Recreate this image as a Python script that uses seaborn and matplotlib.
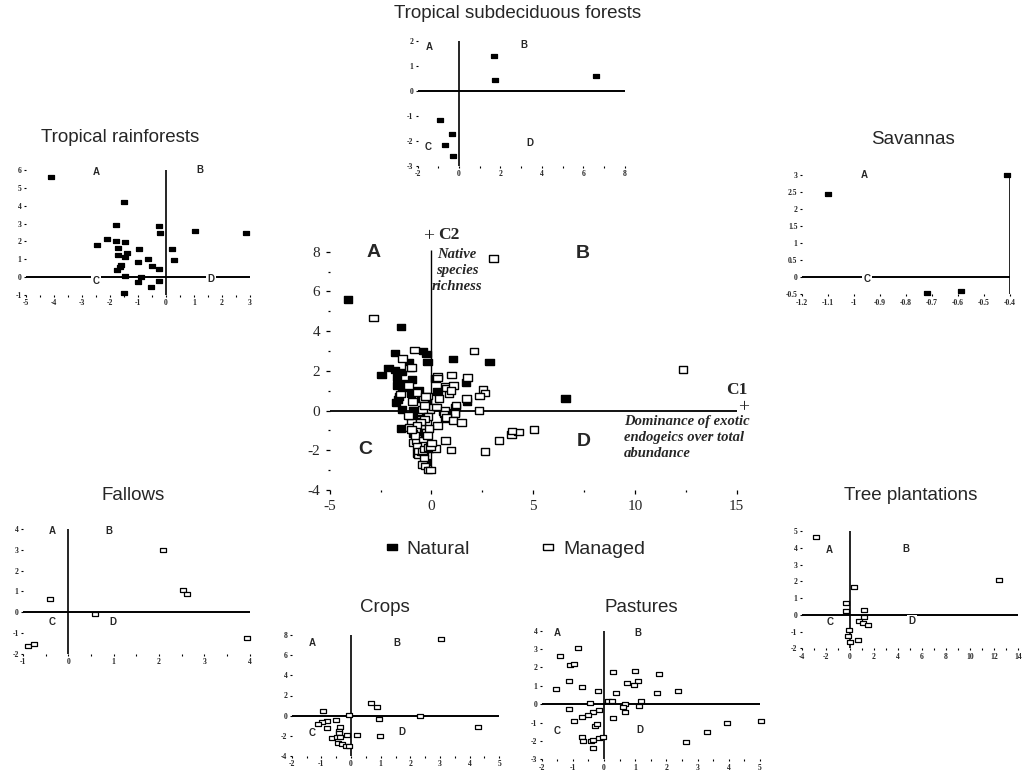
import numpy as np
import pandas as pd
import matplotlib
matplotlib.use("Agg")
import matplotlib.pyplot as plt
import seaborn as sns
from matplotlib.lines import Line2D

# ---------------- data ----------------
rain_x = [-4.1, -1.5, -1.8, -0.25, -0.2, 1.05, 2.85, -2.1, -1.8, -1.45, -2.45, -1.7, -0.95, 0.2,
          -1.4, -1.7, -1.45, -0.65, 0.3, -1.0, -1.6, -0.5, -1.65, -0.25, -1.75, -1.45, -0.9, -1.0,
          -0.25, -0.55, -1.5]
rain_y = [5.6, 4.2, 2.9, 2.85, 2.45, 2.6, 2.45, 2.15, 2.05, 1.95, 1.8, 1.65, 1.55, 1.6,
          1.35, 1.25, 1.15, 1.0, 0.95, 0.85, 0.7, 0.6, 0.55, 0.45, 0.4, 0.05, 0.0, -0.3,
          -0.2, -0.55, -0.9]

subd_x = [1.7, 1.75, 6.6, -0.9, -0.35, -0.7, -0.3]
subd_y = [1.4, 0.45, 0.6, -1.15, -1.7, -2.15, -2.6]

sav_x = [-1.1, -0.41, -0.72, -0.59]
sav_y = [2.45, 3.0, -0.46, -0.41]

fal_x = [-0.4, 2.08, 2.53, 2.63, 0.6, 3.94, -0.88, -0.76]
fal_y = [0.62, 3.0, 1.07, 0.88, -0.08, -1.22, -1.6, -1.5]

crop_x = [3.05, 0.69, 0.86, -0.93, -0.07, 2.34, 0.95, -0.51, -0.8, -0.98, -1.1, 4.27, -0.8,
          -0.37, -0.39, -0.4, -0.12, 0.21, 0.97, -0.65, -0.48, -0.37, -0.43, -0.31, -0.17, -0.06]
crop_y = [7.65, 1.23, 0.83, 0.47, 0.05, 0.0, -0.36, -0.43, -0.52, -0.59, -0.85, -1.09, -1.25,
          -1.09, -1.48, -1.75, -1.91, -1.91, -1.98, -2.24, -2.08, -2.14, -2.73, -2.8, -3.0, -3.0]

past_x = [-1.41, -0.83, -1.09, -0.98, -1.13, -1.53, -0.72, -0.19, 0.3, 0.98, 1.76, 0.73, 1.09,
          0.96, 0.38, 1.71, 2.37, -0.45, 0.11, 0.25, 0.67, 1.18, 1.13, 0.62, 0.67, -1.14, -0.16,
          -0.34, -0.53, -0.72, -0.98, 0.3, -0.29, -0.23, -0.72, -0.66, -0.43, -0.34, -0.16, -0.05,
          -0.37, 2.64, 3.31, 3.95, 5.04]
past_y = [2.63, 3.04, 2.14, 2.17, 1.27, 0.84, 0.91, 0.73, 1.74, 1.78, 1.65, 1.14, 1.27,
          1.02, 0.6, 0.6, 0.74, 0.05, 0.18, 0.18, 0.02, 0.18, -0.09, -0.18, -0.43, -0.25, -0.31,
          -0.43, -0.58, -0.72, -0.94, -0.76, -1.17, -1.1, -1.81, -2.03, -2.03, -1.94, -1.85, -1.81,
          -2.39, -2.06, -1.52, -1.03, -0.94]

tree_x = [-2.85, 12.36, 0.31, -0.28, -0.33, 1.2, 1.15, 0.73, 1.06, 1.48, -0.11, -0.19, 0.7, 0.0]
tree_y = [4.67, 2.07, 1.63, 0.7, 0.24, 0.28, -0.16, -0.36, -0.51, -0.61, -0.89, -1.25, -1.51, -1.64]

panel_titles = ["Tropical rainforests", "Tropical subdeciduous forests", "Savannas",
                "Fallows", "Crops", "Pastures", "Tree plantations"]
quadrants = ["A", "B", "C", "D"]
legend_labels = ["Natural", "Managed"]
axis_names = ["C1", "C2"]
c1_desc = "Dominance of exotic\nendogeics over total\nabundance"
c2_desc = "Native\nspecies\nrichness"

# ---------------- style ----------------
sns.set_theme(style="white")
plt.rcParams["font.family"] = ["Liberation Sans", "DejaVu Sans"]
plt.rcParams["axes.unicode_minus"] = False

W, H = 1025, 774
fig = plt.figure(figsize=(W / 100, H / 100), dpi=100)
fig.patch.set_facecolor("white")

RECT = [(-1.3, -1), (1.3, -1), (1.3, 1), (-1.3, 1), (-1.3, -1)]


def fx(px):
    return px / W


def fy(py):
    return 1 - py / H


def fmt(v):
    return ("%g" % v)


def small_panel(box, xs, ys, natural, xlim, ylim, xmaj, xmin, ymaj, title, tpos,
                qpos, vline_x=0.0):
    x0, x1, y0, y1 = box  # pixel box: left, right, top, bottom
    ax = fig.add_axes([fx(x0), fy(y1), (x1 - x0) / W, (y1 - y0) / H])
    ax.set_facecolor("none")
    sns.scatterplot(x=xs, y=ys, ax=ax, marker=RECT, s=14,
                    color="black" if natural else "white",
                    edgecolor="black", linewidth=0.9, zorder=4, legend=False, clip_on=False)
    ax.plot(xlim, [0, 0], color="black", lw=1.4, zorder=1, solid_capstyle="butt")
    ax.plot([vline_x, vline_x], ylim, color="black", lw=1.2, zorder=1, solid_capstyle="butt")
    ax.set_xlim(xlim)
    ax.set_ylim(ylim)
    for sp in ax.spines.values():
        sp.set_visible(False)
    ax.set_xticks(xmaj)
    ax.set_xticklabels([fmt(v) for v in xmaj])
    ax.set_xticks(xmin, minor=True)
    ax.set_yticks(ymaj)
    ax.set_yticklabels([fmt(v) for v in ymaj])
    ax.tick_params(which="both", bottom=True, left=True, labelsize=5.5, length=1.6,
                   width=0.8, pad=1.5, color="black", direction="out")
    ax.tick_params(which="minor", length=1.2)
    for lbl in ax.get_xticklabels() + ax.get_yticklabels():
        lbl.set_fontfamily("Liberation Serif")
        lbl.set_fontweight("bold")
    ax.set_xlabel("")
    ax.set_ylabel("")
    for q, (qx, qy) in zip(quadrants, qpos):
        if qx is None:
            continue
        kw = {}
        if q in ("C", "D"):
            kw["bbox"] = dict(boxstyle="square,pad=0.15", fc="white", ec="none")
        ax.text(qx, qy, q, fontsize=7, fontweight="bold", ha="center", va="center",
                zorder=3, **kw)
    fig.text(fx(tpos[0]), fy(tpos[1]), title, fontsize=13.5, ha="center", va="center")
    return ax


# Tropical rainforests
small_panel((26, 250, 170, 295), rain_x, rain_y, True, (-5, 3), (-1, 6),
            [-5, -4, -3, -2, -1, 0, 1, 2, 3], list(np.arange(-4.5, 3, 1.0)),
            [-1, 0, 1, 2, 3, 4, 5, 6], panel_titles[0], (120, 138),
            [(-2.5, 5.9), (1.2, 6.0), (-2.5, -0.2), (1.6, -0.1)])

# Tropical subdeciduous forests
small_panel((417.6, 624.6, 41.3, 166), subd_x, subd_y, True, (-2, 8), (-3, 2),
            [-2, 0, 2, 4, 6, 8], [-1, 1, 3, 5, 7], [-3, -2, -1, 0, 1, 2],
            panel_titles[1], (518, 13),
            [(-1.45, 1.77), (3.14, 1.87), (-1.5, -2.24), (3.43, -2.08)])

# Savannas
small_panel((801.7, 1010, 175, 294.3), sav_x, sav_y, True, (-1.2, -0.4), (-0.5, 3),
            [-1.2, -1.1, -1.0, -0.9, -0.8, -0.7, -0.6, -0.5, -0.4], [],
            [-0.5, 0, 0.5, 1, 1.5, 2, 2.5, 3], panel_titles[2], (913, 140),
            [(-0.96, 3.0), (None, None), (-0.95, -0.05), (None, None)], vline_x=-0.4)

# Fallows
small_panel((23, 249.5, 529, 654), fal_x, fal_y, False, (-1, 4), (-2, 4),
            [-1, 0, 1, 2, 3, 4], [-0.5, 0.5, 1.5, 2.5, 3.5], [-2, -1, 0, 1, 2, 3, 4],
            panel_titles[3], (133, 496),
            [(-0.35, 3.88), (0.9, 3.88), (-0.35, -0.45), (0.99, -0.45)])

# Crops
small_panel((291.7, 499.3, 635, 756), crop_x, crop_y, False, (-2, 5), (-4, 8),
            [-2, -1, 0, 1, 2, 3, 4, 5], [-1.5, -0.5, 0.5, 1.5, 2.5, 3.5, 4.5],
            [-4, -2, 0, 2, 4, 6, 8], panel_titles[4], (385, 608),
            [(-1.32, 7.2), (1.53, 7.2), (-1.32, -1.74), (1.7, -1.58)])

# Pastures
small_panel((541.7, 760, 630.7, 759.3), past_x, past_y, False, (-2, 5), (-3, 4),
            [-2, -1, 0, 1, 2, 3, 4, 5], [-1.5, -0.5, 0.5, 1.5, 2.5, 3.5, 4.5],
            [-3, -2, -1, 0, 1, 2, 3, 4], panel_titles[5], (641, 608),
            [(-1.49, 3.9), (1.07, 3.86), (-1.49, -1.45), (1.15, -1.39)])

# Tree plantations
small_panel((801.7, 1018.3, 531, 648.3), tree_x, tree_y, False, (-4, 14), (-2, 5),
            [-4, -2, 0, 2, 4, 6, 8, 10, 12, 14], [-3, -1, 1, 3, 5, 7, 9, 11, 13],
            [-2, -1, 0, 1, 2, 3, 4, 5], panel_titles[6], (911, 496),
            [(-1.72, 3.87), (4.63, 3.91), (-1.67, -0.45), (5.16, -0.4)])

# ---------------- central panel (all sites) ----------------
nat_x = rain_x + subd_x + sav_x
nat_y = rain_y + subd_y + sav_y
man_x = fal_x + crop_x + past_x + tree_x
man_y = fal_y + crop_y + past_y + tree_y
df = pd.DataFrame({
    "C1": nat_x + man_x,
    "C2": nat_y + man_y,
    "type": [legend_labels[0]] * len(nat_x) + [legend_labels[1]] * len(man_x),
})

cx0, cx1, cy0, cy1 = 329.7, 746.9, 231.8, 490
axc = fig.add_axes([fx(cx0), fy(cy1), (cx1 - cx0) / W, (cy1 - cy0) / H])
axc.set_facecolor("none")
sns.scatterplot(data=df, x="C1", y="C2", hue="type", style="type",
                palette={legend_labels[0]: "black", legend_labels[1]: "white"},
                markers={legend_labels[0]: RECT, legend_labels[1]: RECT},
                s=38, edgecolor="black", linewidth=1.0, legend=False, ax=axc, zorder=4)
axc.plot([-5.1, 15.0], [0, 0], color="black", lw=1.3, zorder=1, solid_capstyle="butt")
axc.plot([0, 0], [-3.0, 8.1], color="black", lw=1.0, zorder=1, solid_capstyle="butt")
axc.set_xlim(-5, 15.5)
axc.set_ylim(-4, 9)
for sp in axc.spines.values():
    sp.set_visible(False)
axc.set_xticks([-5, 0, 5, 10, 15])
axc.set_xticks([-2.5, 2.5, 7.5, 12.5], minor=True)
axc.set_yticks([-4, -2, 0, 2, 4, 6, 8])
axc.set_yticks([-3, -1, 1, 3, 5, 7], minor=True)
axc.tick_params(which="both", bottom=True, left=True, labelsize=11, length=3, width=0.9,
                pad=4, color="black", direction="out")
axc.tick_params(which="minor", length=1.5)
for lbl in axc.get_xticklabels() + axc.get_yticklabels():
    lbl.set_fontfamily("Liberation Serif")
axc.set_xlabel("")
axc.set_ylabel("")

for q, (qx, qy) in zip(quadrants, [(-2.86, 7.96), (7.43, 7.9), (-3.27, -1.97), (7.5, -1.55)]):
    axc.text(qx, qy, q, fontsize=14, fontweight="bold", ha="center", va="center")

axc.text(-0.15, 8.75, "+", fontsize=14, ha="center", va="center", family="Liberation Serif")
axc.text(0.35, 8.85, axis_names[1], fontsize=12.5, fontweight="bold", ha="left", va="center",
         family="Liberation Serif")
axc.text(15.35, 0.15, "+", fontsize=14, ha="center", va="center", family="Liberation Serif",
         clip_on=False)
axc.text(15.0, 1.05, axis_names[0], fontsize=12.5, fontweight="bold", ha="center", va="center",
         family="Liberation Serif", clip_on=False)
axc.text(1.25, 8.2, c2_desc, fontsize=10.5, style="italic", fontweight="bold", ha="center",
         va="top", family="Liberation Serif", linespacing=1.3)
axc.text(9.45, -0.2, c1_desc, fontsize=10.5, style="italic", fontweight="bold", ha="left",
         va="top", family="Liberation Serif", linespacing=1.3, clip_on=False)

# ---------------- legend ----------------
handles = [Line2D([], [], ls="none", marker=RECT, markersize=6.5, markerfacecolor="black",
                  markeredgecolor="black", markeredgewidth=1.0),
           Line2D([], [], ls="none", marker=RECT, markersize=6.5, markerfacecolor="white",
                  markeredgecolor="black", markeredgewidth=1.0)]
fig.legend(handles, legend_labels, loc="center", bbox_to_anchor=(fx(514), fy(549)), ncol=2,
           frameon=False, fontsize=14, columnspacing=3.6, handletextpad=0.3, handlelength=0.9)

fig.savefig("out.png", dpi=100, facecolor="white")
